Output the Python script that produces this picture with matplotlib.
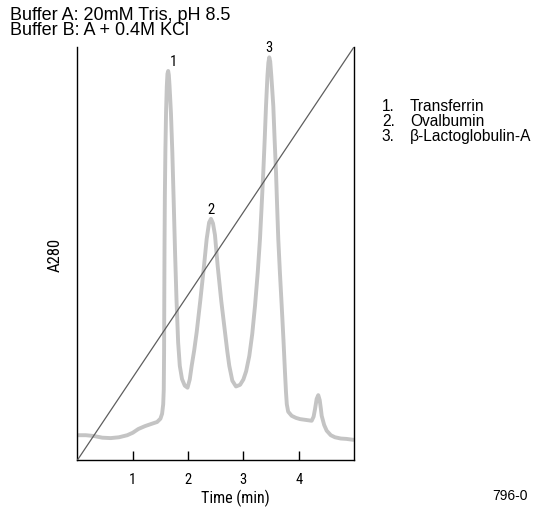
import matplotlib
matplotlib.use("Agg")
import matplotlib.pyplot as plt

plt.rcParams['font.family'] = ['Liberation Sans', 'DejaVu Sans']
narrow = ['Roboto Condensed', 'Liberation Sans', 'DejaVu Sans']

# A280 trace read along the elution (time in min, absorbance in arbitrary units)
time_min = [0.00, 0.15, 0.30, 0.45, 0.60, 0.75, 0.90, 1.00, 1.10, 1.22,
            1.35, 1.44, 1.50, 1.530, 1.550, 1.560, 1.566, 1.570, 1.574, 1.580,
            1.590, 1.602, 1.615, 1.627, 1.640, 1.652, 1.665, 1.690, 1.715, 1.740,
            1.765, 1.790, 1.820, 1.850, 1.890, 1.940, 1.990, 2.030, 2.065, 2.110,
            2.156, 2.220, 2.288, 2.336, 2.380, 2.414, 2.450, 2.486, 2.535, 2.600,
            2.667, 2.710, 2.745, 2.800, 2.866, 2.940, 3.000, 3.050, 3.107, 3.160,
            3.210, 3.260, 3.300, 3.330, 3.360, 3.385, 3.409, 3.435, 3.452, 3.468,
            3.485, 3.505, 3.525, 3.541, 3.565, 3.590, 3.610, 3.631, 3.660, 3.693,
            3.725, 3.752, 3.770, 3.785, 3.810, 3.873, 3.950, 4.024, 4.130, 4.235,
            4.270, 4.295, 4.325, 4.354, 4.380, 4.400, 4.416, 4.460, 4.506, 4.580,
            4.656, 4.760, 4.868, 4.977, 5.000]
a280 = [0.060, 0.060, 0.058, 0.054, 0.053, 0.055, 0.060, 0.066, 0.075, 0.082,
        0.088, 0.092, 0.100, 0.112, 0.135, 0.170, 0.260, 0.400, 0.520, 0.640,
        0.753, 0.845, 0.905, 0.935, 0.942, 0.932, 0.905, 0.840, 0.745, 0.625,
        0.500, 0.390, 0.285, 0.228, 0.196, 0.180, 0.175, 0.195, 0.228, 0.265,
        0.310, 0.385, 0.470, 0.535, 0.575, 0.584, 0.573, 0.545, 0.470, 0.385,
        0.310, 0.262, 0.228, 0.192, 0.178, 0.182, 0.195, 0.215, 0.252, 0.305,
        0.373, 0.455, 0.535, 0.615, 0.697, 0.775, 0.857, 0.930, 0.962, 0.975,
        0.965, 0.930, 0.890, 0.857, 0.775, 0.697, 0.615, 0.535, 0.455, 0.373,
        0.290, 0.213, 0.165, 0.135, 0.117, 0.107, 0.102, 0.099, 0.097, 0.095,
        0.105, 0.123, 0.148, 0.157, 0.145, 0.125, 0.107, 0.085, 0.071, 0.060,
        0.055, 0.052, 0.051, 0.049, 0.049]

# linear salt gradient, 0 -> 0.4 M KCl over the run
gradient_time = [0, 5]
gradient_kcl = [0, 0.4]

peak_numbers = ['1', '2', '3']
peak_times = [1.637, 2.414, 3.468]
peak_heights = [0.942, 0.584, 0.975]
proteins = ['Transferrin', 'Ovalbumin', '\u03b2-Lactoglobulin-A']

fig = plt.figure(figsize=(5.34, 5.10), dpi=100)
ax = fig.add_axes([0.1451, 0.0961, 0.5178, 0.8098])

ax.plot(time_min, a280, color='#c4c4c4', lw=2.8, solid_joinstyle='round',
        solid_capstyle='round', zorder=2)
ax.set_xlim(0, 5)
ax.set_ylim(0, 1)

# peak numbers just above each maximum (peak 1 label sits a bit to the right)
for num, t, h in zip(peak_numbers, peak_times, peak_heights):
    dx = 0.09 if num == '1' else 0.0
    ax.text(t + dx, h + 0.007, num, ha='center', va='bottom',
            fontsize=10.5, family=narrow)

ax.spines['top'].set_visible(False)
for s in ('left', 'bottom', 'right'):
    ax.spines[s].set_linewidth(1.0)
ax.set_xticks([1, 2, 3, 4])
ax.set_xticklabels(['1', '2', '3', '4'], family=narrow, fontsize=10.5)
ax.tick_params(axis='x', direction='in', length=6.5, width=1, pad=9)
ax.set_yticks([])
ax.set_xlabel('Time (min)', family=narrow, fontsize=11.5)
ax.xaxis.set_label_coords(0.57, -0.07)
ax.set_ylabel('A280', family=narrow, fontsize=12)
ax.yaxis.set_label_coords(-0.055, 0.5)

gx = ax.twinx()
gx.plot(gradient_time, gradient_kcl, color='#5e5e5e', lw=0.9, zorder=3)
gx.set_ylim(0, 0.4)
gx.set_yticks([])
for s in gx.spines.values():
    s.set_visible(False)

fig.text(0.019, 0.961, 'Buffer A: 20mM Tris, pH 8.5', fontsize=13, va='baseline')
fig.text(0.019, 0.931, 'Buffer B: A + 0.4M KCl', fontsize=13, va='baseline')

for i, name in enumerate(proteins):
    y = 0.792 - i * 0.0295
    fig.text(0.715, y, f'{i + 1}.', fontsize=11.2, va='center')
    fig.text(0.768, y, name, fontsize=11.2, va='center')

fig.text(0.921, 0.027, '796-0', fontsize=10, va='center')

fig.savefig('out.png', dpi=100)
